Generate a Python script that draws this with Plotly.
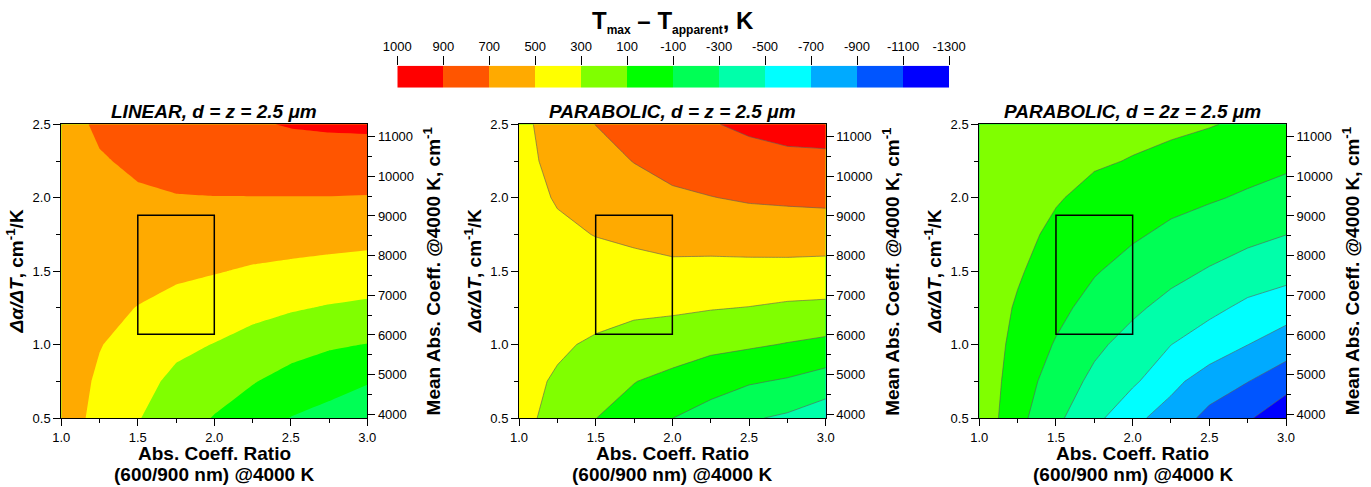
import plotly.graph_objects as go

# ---------------- data ----------------
X_RATIO = [1.0, 1.25, 1.5, 1.75, 2.0, 2.25, 2.5, 2.75, 3.0]          # Abs. coeff. ratio (600/900 nm)
Y_SLOPE = [0.5, 0.75, 1.0, 1.25, 1.5, 1.75, 2.0, 2.25, 2.5]          # d(alpha)/dT, cm^-1/K

# T_max - T_apparent (K); rows follow Y_SLOPE (bottom -> top), columns follow X_RATIO
Z_LINEAR = [
    [640, 420, 310, 200, 90, 10, -105, -160, -200],
    [630, 465, 360, 260, 190, 110, 40, -30, -90],
    [620, 510, 410, 340, 295, 240, 165, 125, 95],
    [610, 550, 495, 430, 400, 350, 320, 285, 260],
    [610, 590, 560, 540, 510, 480, 460, 440, 420],
    [610, 620, 610, 610, 600, 590, 580, 570, 560],
    [610, 650, 670, 690, 695, 695, 695, 695, 690],
    [605, 680, 740, 780, 800, 810, 820, 830, 830],
    [600, 740, 790, 830, 860, 885, 910, 920, 925],
]
Z_PARABOLIC = [
    [345, 250, 102, 30, -98, -180, -280, -330, -420],
    [355, 280, 180, 105, 50, -20, -80, -120, -190],
    [370, 325, 275, 220, 190, 150, 125, 90, 55],
    [385, 375, 360, 340, 330, 310, 295, 270, 260],
    [400, 420, 430, 440, 455, 445, 445, 440, 430],
    [415, 465, 505, 535, 570, 580, 590, 600, 600],
    [425, 515, 570, 620, 670, 695, 720, 730, 740],
    [435, 560, 635, 705, 760, 800, 840, 860, 860],
    [440, 600, 702, 770, 830, 890, 930, 960, 980],
]
Z_PARABOLIC_2Z = [
    [240, -40, -260, -440, -660, -770, -965, -1075, -1240],
    [238, 0, -190, -345, -465, -655, -780, -895, -1020],
    [232, 40, -115, -260, -370, -498, -605, -698, -800],
    [215, 80, -45, -170, -265, -360, -450, -545, -610],
    [230, 120, 10, -85, -170, -245, -315, -385, -430],
    [250, 155, 60, -15, -75, -140, -200, -250, -298],
    [265, 185, 115, 50, 0, -45, -80, -125, -175],
    [275, 210, 160, 120, 92, 60, 10, -25, -60],
    [285, 230, 200, 170, 145, 130, 110, 70, 30],
]

PANEL_TITLES = ["LINEAR, d = z = 2.5 μm", "PARABOLIC, d = z = 2.5 μm", "PARABOLIC, d = 2z = 2.5 μm"]
X_TITLE_LINES = ["Abs. Coeff. Ratio", "(600/900 nm) @4000 K"]
Y_TITLE = "<i>Δα/ΔT</i>, cm<sup>-1</sup>/K"
Y2_TITLE = "Mean Abs. Coeff. @4000 K, cm<sup>-1</sup>"

X_TICKS = [1.0, 1.5, 2.0, 2.5, 3.0]
Y_TICKS = [0.5, 1.0, 1.5, 2.0, 2.5]
RIGHT_TICKS = [4000, 5000, 6000, 7000, 8000, 9000, 10000, 11000]

# legend: boundaries (left -> right) and band colours (high -> low)
LEVEL_LABELS = ["1000", "900", "700", "500", "300", "100", "-100", "-300", "-500", "-700", "-900", "-1100", "-1300"]
BAND_COLORS = ["#FF0000", "#FF5500", "#FFAA00", "#FFFF00", "#80FF00", "#00FF00",
               "#00FF55", "#00FFAA", "#00FFFF", "#00AAFF", "#0055FF", "#0000FF"]
CONTOUR_START, CONTOUR_END, CONTOUR_STEP = -1100, 900, 200

# region of interest box
BOX_X = (1.5, 2.0)
BOX_Y = (1.07, 1.88)

# right axis (mean abs. coeff.) range matching the left axis 0.5 .. 2.5
RIGHT_RANGE = [3907, 11311]

# ---------------- styling ----------------
FONT = "Arial, Liberation Sans, sans-serif"
W, H = 1371, 487
PANEL_PX = [(61.3, 367.3), (519.0, 825.7), (979.3, 1286.0)]
PLOT_TOP, PLOT_BOT = 124.3, 418.0
TICK_SIZE = 13
TITLE_SIZE = 19


def px(xp, yp):
    return xp / W, 1 - yp / H


low_to_high = BAND_COLORS[::-1]
n = len(low_to_high)
colorscale = [[k / (n - 1), c] for k, c in enumerate(low_to_high)]

fig = go.Figure()
zsets = [Z_LINEAR, Z_PARABOLIC, Z_PARABOLIC_2Z]
layout = dict(
    width=W, height=H, margin=dict(l=0, r=0, t=0, b=0, autoexpand=False),
    paper_bgcolor="white", plot_bgcolor="white",
    font=dict(family=FONT, color="black", size=TICK_SIZE),
    showlegend=False, shapes=[], annotations=[],
)


def add_text(text, xp, yp, size, angle=0):
    x, y = px(xp, yp)
    layout["annotations"].append(dict(
        text=text, xref="paper", yref="paper", x=x, y=y, xanchor="center", yanchor="middle",
        textangle=angle, showarrow=False, font=dict(size=size, family=FONT, color="black")))


ydom = [1 - PLOT_BOT / H, 1 - PLOT_TOP / H]
ymid = (PLOT_TOP + PLOT_BOT) / 2
for i, z in enumerate(zsets):
    k = i + 1
    xa = "x" if k == 1 else f"x{k}"
    ya = "y" if k == 1 else f"y{k}"
    yr = f"y{k + 3}"
    lines = i > 0
    fig.add_trace(go.Contour(
        x=X_RATIO, y=Y_SLOPE, z=z, xaxis=xa, yaxis=ya,
        autocontour=False,
        contours=dict(start=CONTOUR_START, end=CONTOUR_END, size=CONTOUR_STEP,
                      coloring="fill", showlines=lines),
        line=dict(color="#5a5a5a", width=0.6 if lines else 0, smoothing=0),
        colorscale=colorscale, showscale=False, hoverinfo="skip",
    ))
    fig.add_trace(go.Scatter(x=[None], y=[None], xaxis=xa, yaxis=yr,
                             showlegend=False, hoverinfo="skip"))
    x0, x1 = PANEL_PX[i]
    tick = dict(ticks="outside", ticklen=7, tickwidth=1, tickcolor="black",
                showline=True, linecolor="black", linewidth=1, automargin=False,
                tickfont=dict(size=TICK_SIZE, family=FONT, color="black"),
                showgrid=False, zeroline=False)
    layout[f"xaxis{k if k > 1 else ''}"] = dict(
        domain=[x0 / W, x1 / W], anchor=ya, range=[1.0, 3.0],
        tickvals=X_TICKS, ticktext=[f"{v:.1f}" for v in X_TICKS],
        minor=dict(dtick=0.25, tick0=1.0, ticks="outside", ticklen=4, tickcolor="black"),
        mirror=True, **tick)
    layout[f"yaxis{k if k > 1 else ''}"] = dict(
        domain=ydom, anchor=xa, range=[0.5, 2.5],
        tickvals=Y_TICKS, ticktext=[f"{v:.1f}" for v in Y_TICKS],
        minor=dict(dtick=0.25, tick0=0.5, ticks="outside", ticklen=4, tickcolor="black"),
        **tick)
    layout[f"yaxis{k + 3}"] = dict(
        overlaying=ya, anchor=xa, side="right", range=RIGHT_RANGE,
        tickvals=RIGHT_TICKS, ticktext=[str(v) for v in RIGHT_TICKS],
        minor=dict(dtick=500, tick0=4000, ticks="outside", ticklen=4, tickcolor="black"),
        **tick)
    layout["shapes"].append(dict(type="rect", xref=xa, yref=ya,
                                 x0=BOX_X[0], x1=BOX_X[1], y0=BOX_Y[0], y1=BOX_Y[1],
                                 line=dict(color="black", width=1.5)))
    xc = (x0 + x1) / 2
    add_text(f"<b><i>{PANEL_TITLES[i]}</i></b>", xc, 111, TITLE_SIZE)
    add_text(f"<b>{X_TITLE_LINES[0]}</b>", xc, 453, TITLE_SIZE)
    add_text(f"<b>{X_TITLE_LINES[1]}</b>", xc, 474, TITLE_SIZE)
    add_text(f"<b>{Y_TITLE}</b>", x0 - 46, ymid, TITLE_SIZE, -90)
    add_text(f"<b>{Y2_TITLE}</b>", x1 + 65, ymid, TITLE_SIZE, -90)

# ---------------- legend bar ----------------
CB_X0, CB_X1, CB_Y0, CB_Y1 = 397.3, 949.0, 65.7, 87.7
fig.add_trace(go.Heatmap(
    z=[list(range(n - 1, -1, -1))], x=list(range(n)), y=[0],
    xaxis="x4", yaxis="y7", colorscale=colorscale, zmin=0, zmax=n - 1,
    showscale=False, hoverinfo="skip"))
layout["xaxis4"] = dict(
    domain=[CB_X0 / W, CB_X1 / W], anchor="y7", range=[-0.5, n - 0.5], side="top",
    tickvals=[j - 0.5 for j in range(n + 1)], ticktext=LEVEL_LABELS,
    ticks="outside", ticklen=9, tickcolor="black", tickwidth=1, automargin=False,
    tickfont=dict(size=TICK_SIZE, family=FONT, color="black"),
    showline=False, showgrid=False, zeroline=False)
layout["yaxis7"] = dict(domain=[1 - CB_Y1 / H, 1 - CB_Y0 / H], anchor="x4",
                        range=[-0.5, 0.5], visible=False)
add_text("<b>T<sub><span style='font-size:12px'>max</span></sub> – "
         "T<sub><span style='font-size:12px'>apparent</span></sub>, K</b>",
         (CB_X0 + CB_X1) / 2, 22, 24)

fig.update_layout(**layout)
fig.write_html("out.html", config={"displayModeBar": False},
               post_script="document.body.style.margin='0px';")
